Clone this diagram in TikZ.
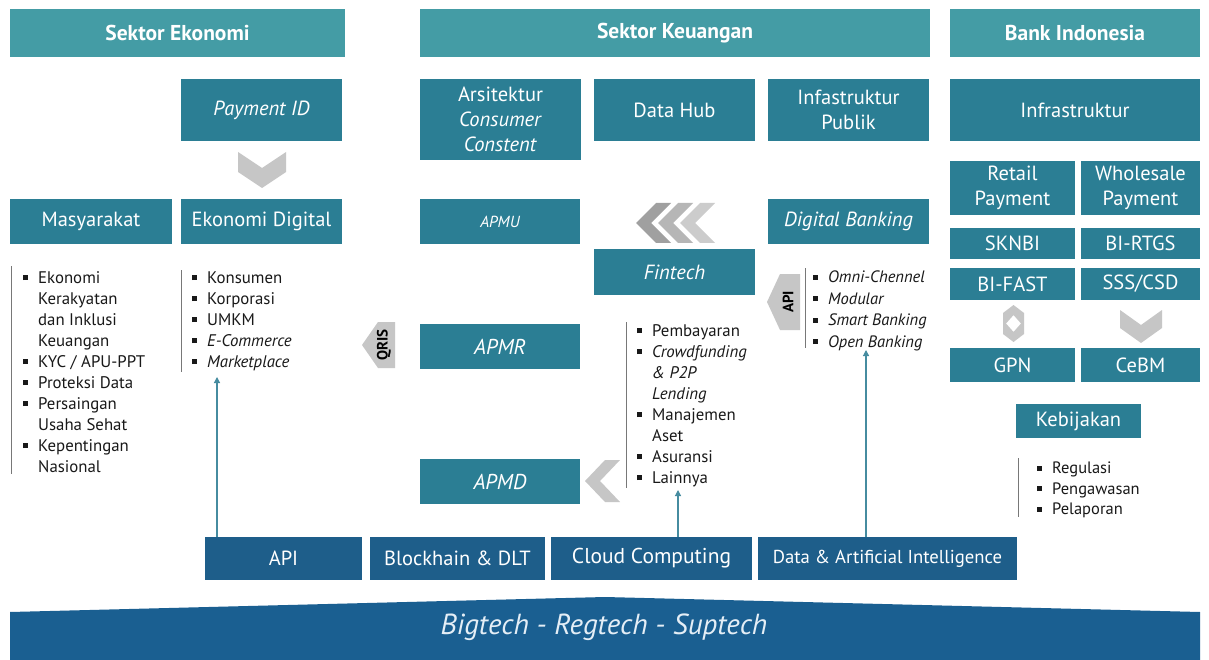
\documentclass[tikz,border=0pt]{standalone}
\usepackage{fontspec}
\setmainfont{PT Sans}
\usetikzlibrary{arrows.meta}
\definecolor{hdr}{RGB}{68,156,165}
\definecolor{bx}{RGB}{43,126,148}
\definecolor{tech}{RGB}{30,94,138}
\definecolor{band}{RGB}{26,95,145}
\definecolor{arr}{RGB}{70,140,160}
\definecolor{chev}{RGB}{198,198,198}
\definecolor{chevA}{RGB}{160,160,160}
\definecolor{chevB}{RGB}{182,182,182}
\definecolor{chevC}{RGB}{204,204,204}
\definecolor{barc}{RGB}{120,120,120}
\newcommand\bul{\makebox[15pt][l]{\raisebox{0.2em}{\rule{5pt}{5pt}}}}
\newcommand\ind{\hspace*{15pt}}
\begin{document}
\begin{tikzpicture}[x=1pt,y=-1pt,
  hdrbox/.style={fill=hdr, text=white, font=\fontsize{21.5}{23}\selectfont\bfseries, inner sep=0pt, align=center},
  box/.style={fill=bx, text=white, font=\fontsize{20.5}{25}\selectfont, inner sep=0pt, align=center},
  techbox/.style={fill=tech, text=white, font=\fontsize{20.5}{22}\selectfont, inner sep=0pt},
  listtxt/.style={inner sep=0pt, anchor=north west, align=left, text=black!90, font=\fontsize{16.8}{21}\selectfont},
  bar/.style={draw=barc, line width=0.9pt},
  uparrow/.style={draw=arr, line width=1.2pt, -{Triangle[width=6pt,length=6pt]}},
  chevron/.style={fill=chev, draw=none},
  tag/.style={inner sep=0pt, rotate=90, font=\fontsize{15}{15}\selectfont\bfseries, text=black},
]
\useasboundingbox (0,0) rectangle (1209,660);
\fill[white] (0,0) rectangle (1209,660);

% headers
\node[hdrbox, minimum width=335pt, minimum height=48pt] (hE) at (177.5,33) {Sektor Ekonomi};
\node[hdrbox, minimum width=510pt, minimum height=48pt] (hK) at (675,33) {Sektor Keuangan};
\node[hdrbox, minimum width=250pt, minimum height=48pt] (hB) at (1075,33) {Bank Indonesia};

% row 2
\node[box, minimum width=161pt, minimum height=62pt] (payid) at (261.5,110) {\itshape Payment ID};
\node[box, minimum width=161pt, minimum height=81pt] (arsi) at (500.5,119.5) {Arsitektur\\\textit{Consumer}\\\textit{Constent}};
\node[box, minimum width=161pt, minimum height=62pt] (datahub) at (674.5,110) {Data Hub};
\node[box, minimum width=161pt, minimum height=62pt] (infpub) at (848.5,110) {Infastruktur\\Publik};
\node[box, minimum width=250pt, minimum height=62pt] (infra) at (1075,110) {Infrastruktur};

% row 3
\node[box, minimum width=162pt, minimum height=45pt] (masy) at (91,221.5) {Masyarakat};
\node[box, minimum width=161pt, minimum height=45pt] (ekdig) at (261.5,221.5) {Ekonomi Digital};
\node[box, minimum width=160pt, minimum height=45pt, font=\fontsize{16}{18}\selectfont\itshape] (apmu) at (500,221.5) {APMU};
\node[box, minimum width=161pt, minimum height=45pt] (digbank) at (848.5,221.5) {\itshape Digital Banking};
\node[box, minimum width=161pt, minimum height=46pt] (fintech) at (674.5,272) {\itshape Fintech};
\node[box, minimum width=160pt, minimum height=45pt, font=\fontsize{21.5}{24}\selectfont\itshape] (apmr) at (500,346.5) {APMR};
\node[box, minimum width=160pt, minimum height=45pt, font=\fontsize{21.5}{24}\selectfont\itshape] (apmd) at (500,481.5) {APMD};

% Bank Indonesia column
\node[box, minimum width=125pt, minimum height=54pt] (retail) at (1012.5,188) {Retail\\Payment};
\node[box, minimum width=119pt, minimum height=54pt] (wholesale) at (1140.5,188) {Wholesale\\Payment};
\node[box, minimum width=125pt, minimum height=31pt] (sknbi) at (1012.5,243.5) {SKNBI};
\node[box, minimum width=119pt, minimum height=31pt] (birtgs) at (1140.5,243.5) {BI-RTGS};
\node[box, minimum width=125pt, minimum height=32pt] (bifast) at (1012.5,284) {BI-FAST};
\node[box, minimum width=119pt, minimum height=32pt] (sss) at (1140.5,284) {SSS/CSD};
\node[box, minimum width=125pt, minimum height=34pt] (gpn) at (1012.5,365) {GPN};
\node[box, minimum width=119pt, minimum height=34pt] (cebm) at (1140.5,365) {CeBM};
\node[box, minimum width=125pt, minimum height=34pt] (kebij) at (1078.5,421) {Kebijakan};

% technology boxes
\node[techbox, minimum width=157pt, minimum height=43pt] (api) at (283.5,558.5) {API};
\node[techbox, minimum width=175pt, minimum height=43pt] (blk) at (457.5,558.5) {Blockhain \& DLT};
\node[techbox, minimum width=201pt, minimum height=43pt, font=\fontsize{21.5}{23}\selectfont] (cloud) at (651.5,558.5) {Cloud Computing};
\node[techbox, minimum width=259pt, minimum height=43pt, font=\fontsize{18.7}{20}\selectfont] (dai) at (887.5,558.5) {Data \& Artificial Intelligence};

% bottom band
\fill[band] (10,612) -- (605,597) -- (1200,612) -- (1200,660) -- (10,660) -- cycle;
\node[inner sep=0pt, text={rgb,255:red,228;green,238;blue,246}, font=\fontsize{29}{32}\selectfont\itshape] (bigtech) at (604,627) {Bigtech - Regtech - Suptech};

% lists
\draw[bar] (11,266) -- (11,474);
\node[listtxt] (lmasy) at (23,271.5) {\bul Ekonomi\\\ind Kerakyatan\\\ind dan Inklusi\\\ind Keuangan\\\bul KYC / APU-PPT\\\bul Proteksi Data\\\bul Persaingan\\\ind Usaha Sehat\\\bul Kepentingan\\\ind Nasional};

\draw[bar] (181,270) -- (181,372);
\node[listtxt] (lekdig) at (192,271.5) {\bul Konsumen\\\bul Korporasi\\\bul UMKM\\\bul \textit{E-Commerce}\\\bul \textit{Marketplace}};

\draw[bar] (626,322) -- (626,488);
\node[listtxt] (lfin) at (637,324.5) {\bul Pembayaran\\\bul \textit{Crowdfunding}\\\ind \textit{\& P2P}\\\ind \textit{Lending}\\\bul Manajemen\\\ind Aset\\\bul Asuransi\\\bul Lainnya};

\draw[bar] (805,268) -- (805,348);
\node[listtxt, font=\fontsize{16.5}{21.5}\selectfont\itshape] (ldig) at (813,271) {\bul Omni-Chennel\\\bul Modular\\\bul Smart Banking\\\bul Open Banking};

\draw[bar] (1018,458) -- (1018,517);
\node[listtxt, font=\fontsize{16.5}{20.5}\selectfont] (lkeb) at (1037,462) {\bul Regulasi\\\bul Pengawasan\\\bul Pelaporan};

% chevrons
\fill[chevron] (238,152) -- (262,168) -- (286,152) -- (286,172) -- (262,188) -- (238,172) -- cycle;
\fill[chevA] (636,223) -- (656,203) -- (671,203) -- (651,223) -- (671,243) -- (656,243) -- cycle;
\fill[chevB] (658,223) -- (678,203) -- (693,203) -- (673,223) -- (693,243) -- (678,243) -- cycle;
\fill[chevC] (680,223) -- (700,203) -- (715,203) -- (695,223) -- (715,243) -- (700,243) -- cycle;
\fill[chevron] (585,481) -- (605,460) -- (620,460) -- (600,481) -- (620,502) -- (605,502) -- cycle;
\fill[chevron] (1120,310) -- (1141,325) -- (1162,310) -- (1162,328) -- (1141,343) -- (1120,328) -- cycle;
\fill[chevron, even odd rule] (1013.5,305) -- (1024,313) -- (1024,334) -- (1013.5,342) -- (1003,334) -- (1003,313) -- cycle
  (1013.5,315) -- (1021,323.5) -- (1013.5,332) -- (1006,323.5) -- cycle;

% QRIS and API tags
\fill[chevron] (362,345) -- (378,322) -- (395,322) -- (395,368) -- (378,368) -- cycle;
\node[tag] (qris) at (384,345) {QRIS};
\fill[chevron] (767,302) -- (780,274) -- (800,274) -- (800,330) -- (780,330) -- cycle;
\node[tag] (apitag) at (788,302) {API};

% arrows
\coordinate (a1) at (217,377);
\coordinate (a2) at (678,490);
\coordinate (a3) at (866,350);
\draw[uparrow] (api.north -| a1) -- (a1);
\draw[uparrow] (cloud.north -| a2) -- (a2);
\draw[uparrow] (dai.north -| a3) -- (a3);
\end{tikzpicture}
\end{document}
